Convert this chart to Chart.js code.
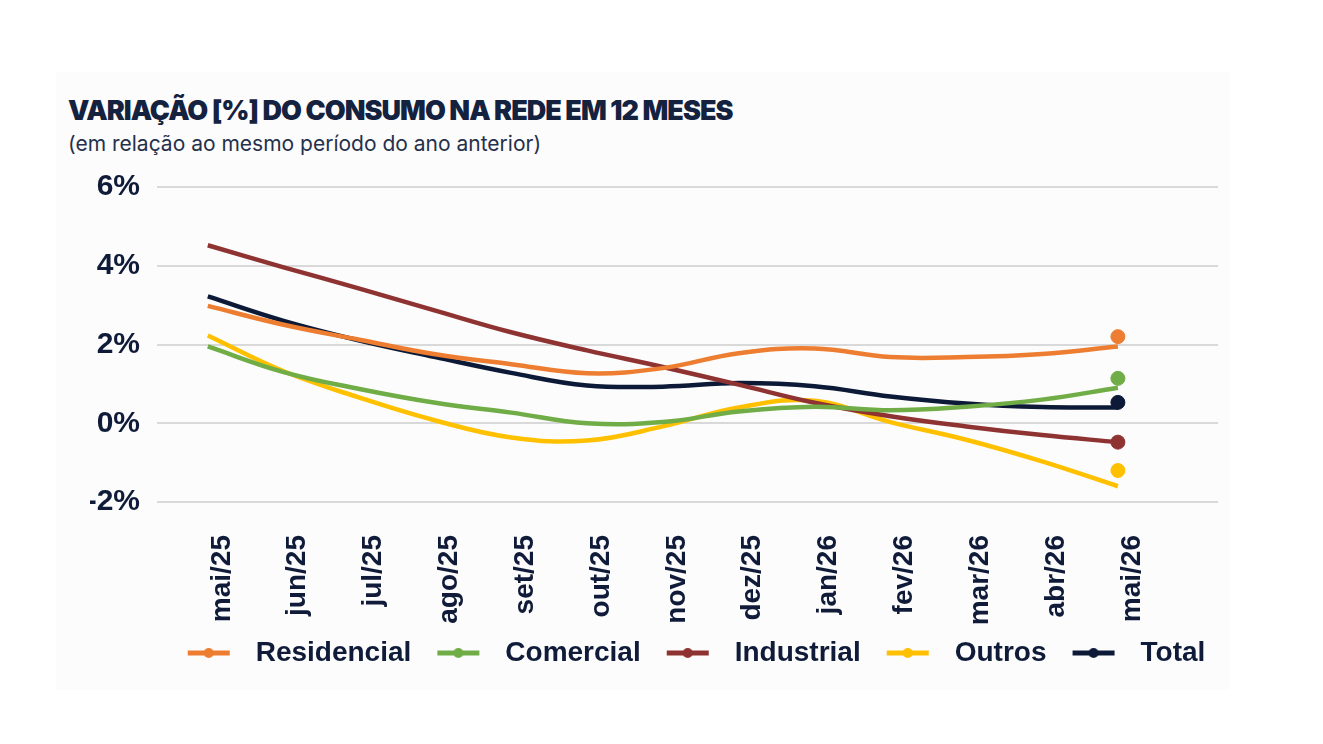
<!DOCTYPE html>
<html lang="pt">
<head>
<meta charset="utf-8">
<title>Variação do consumo na rede em 12 meses</title>
<script src="https://cdn.jsdelivr.net/npm/chart.js@4.4.1/dist/chart.umd.min.js"></script>
<style>
  html, body { margin: 0; padding: 0; background: #ffffff; }
  body { width: 1323px; height: 744px; position: relative; overflow: hidden; }
  #painel { position: absolute; left: 56px; top: 72px; width: 1174px; height: 618px; background: #fcfcfc; }
  #titulo { position: absolute; left: 68px; top: 95px; font-family: Inter, sans-serif; font-weight: 900;
            font-size: 27px; line-height: 32px; letter-spacing: -0.95px; color: #14223f; white-space: nowrap; }
  #subtitulo { position: absolute; left: 68px; top: 131px; font-family: Inter, sans-serif; font-weight: 400;
               font-size: 21px; line-height: 26px; letter-spacing: 0px; color: #25304b; white-space: nowrap; }
  #grafico-box { position: absolute; left: 0; top: 0; width: 1323px; height: 744px; }
</style>
</head>
<body>
<div id="painel"></div>
<div id="titulo">VARIAÇÃO [%] DO CONSUMO NA REDE EM 12 MESES</div>
<div id="subtitulo">(em relação ao mesmo período do ano anterior)</div>
<div id="grafico-box"><canvas id="grafico"></canvas></div>
<script>
// Meses (categorias do eixo X)
const meses = ['mai/25', 'jun/25', 'jul/25', 'ago/25', 'set/25', 'out/25', 'nov/25',
               'dez/25', 'jan/26', 'fev/26', 'mar/26', 'abr/26', 'mai/26'];

// Variação [%] em 12 meses por classe
const residencial = [2.98, 2.50, 2.12, 1.75, 1.50, 1.27, 1.40, 1.78, 1.90, 1.68, 1.68, 1.76, 1.95];
const comercial   = [1.95, 1.30, 0.87, 0.52, 0.27, 0.00, 0.03, 0.30, 0.42, 0.33, 0.42, 0.60, 0.90];
const industrial  = [4.52, 3.96, 3.42, 2.86, 2.31, 1.85, 1.43, 0.98, 0.52, 0.18, -0.08, -0.30, -0.48];
const outros      = [2.23, 1.32, 0.65, 0.07, -0.36, -0.44, -0.08, 0.40, 0.57, 0.03, -0.42, -0.97, -1.60];
const total       = [3.22, 2.60, 2.10, 1.68, 1.28, 0.96, 0.93, 1.02, 0.94, 0.68, 0.50, 0.41, 0.40];

// Último ponto destacado (marcador no fim de cada série)
const destaqueFinal = [2.20, 1.14, -0.48, -1.20, 0.53];

// Ticks do eixo Y
const ticksY = [-2, 0, 2, 4, 6];

const nomes = ['Residencial', 'Comercial', 'Industrial', 'Outros', 'Total'];
const series = [residencial, comercial, industrial, outros, total];
const cores = ['#ed7d31', '#70ad47', '#8e3331', '#ffc000', '#0c1a37'];
const corTexto = '#0f1b38';
const fonte = '"Liberation Sans", Arial, sans-serif';

// símbolo da legenda: linha com um ponto no meio (com margem à esquerda)
function simboloLegenda(cor) {
    const c = document.createElement('canvas');
    c.width = 72;
    c.height = 20;
    const g = c.getContext('2d');
    g.strokeStyle = cor;
    g.lineWidth = 5;
    g.beginPath();
    g.moveTo(18, 10);
    g.lineTo(60, 10);
    g.stroke();
    g.fillStyle = cor;
    g.beginPath();
    g.arc(39, 10, 5, 0, Math.PI * 2);
    g.fill();
    return c;
}
const simbolos = cores.map(simboloLegenda);

const datasets = [];
series.forEach((s, i) => {
    datasets.push({
        label: nomes[i],
        data: s.map((v, j) => ({ x: j, y: v })),
        borderColor: cores[i],
        backgroundColor: cores[i],
        borderWidth: 4.5,
        pointRadius: 0,
        tension: 0.4,
        fill: false
    });
});
series.forEach((s, i) => {
    datasets.push({
        label: nomes[i] + ' (fim)',
        data: [{ x: s.length - 1, y: destaqueFinal[i] }],
        borderColor: cores[i],
        backgroundColor: cores[i],
        showLine: false,
        pointRadius: 7,
        pointHoverRadius: 7
    });
});

const ctx = document.getElementById('grafico').getContext('2d');
new Chart(ctx, {
    type: 'line',
    data: { datasets: datasets },
    options: {
        responsive: true,
        maintainAspectRatio: false,
        animation: false,
        layout: { padding: { left: 90, right: 105, top: 187, bottom: 67 } },
        plugins: {
            tooltip: { enabled: false },
            legend: {
                position: 'bottom',
                fullSize: false,
                labels: {
                    usePointStyle: true,
                    pointStyleWidth: 72,
                    color: corTexto,
                    padding: 8,
                    font: { family: fonte, size: 28, weight: 'bold' },
                    generateLabels: chart => {
                        const itens = Chart.defaults.plugins.legend.labels.generateLabels(chart)
                            .filter(it => it.datasetIndex < nomes.length);
                        itens.forEach((it, i) => { it.pointStyle = simbolos[i]; });
                        return itens;
                    }
                }
            }
        },
        scales: {
            x: {
                type: 'linear',
                min: -0.67,
                max: 13.32,
                afterFit: escala => { escala.height = 129; },
                afterBuildTicks: escala => {
                    escala.ticks = meses.map((m, j) => ({ value: j }));
                },
                grid: { display: false, drawTicks: false },
                border: { display: false },
                ticks: {
                    autoSkip: false,
                    minRotation: 90,
                    maxRotation: 90,
                    padding: 33,
                    labelOffset: 14,
                    color: corTexto,
                    font: { family: fonte, size: 28, weight: 'bold' },
                    callback: v => meses[v] !== undefined ? meses[v] : ''
                }
            },
            y: {
                min: ticksY[0],
                max: ticksY[ticksY.length - 1],
                afterFit: escala => { escala.width = 67; },
                afterBuildTicks: escala => {
                    escala.ticks = ticksY.map(v => ({ value: v }));
                },
                grid: { color: '#d9d9d9', lineWidth: 2, drawTicks: false },
                border: { display: false },
                ticks: {
                    padding: 17,
                    color: corTexto,
                    font: { family: fonte, size: 30, weight: 'bold' },
                    callback: v => v + '%'
                }
            }
        }
    }
});
</script>
</body>
</html>
